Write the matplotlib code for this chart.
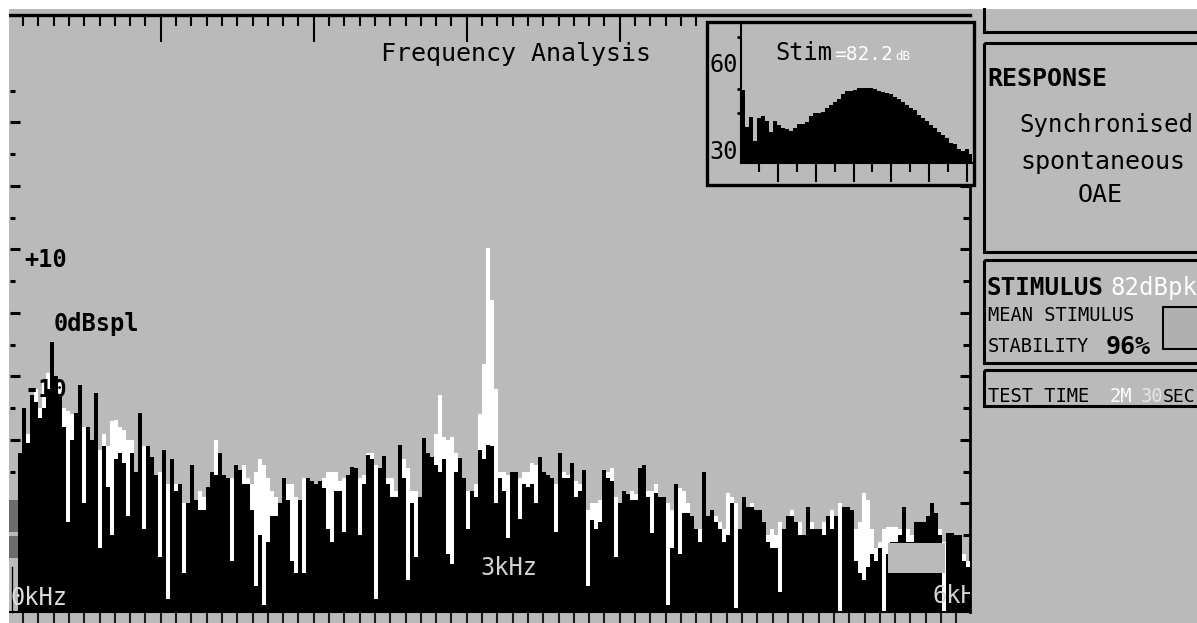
import numpy as np
import matplotlib.pyplot as plt
from matplotlib.patches import Rectangle

plt.rcParams['font.family'] = 'DejaVu Sans Mono'

GRAY = '#bababa'
W, H = 1197, 623

# main spectrum, 0-6 kHz in 240 bins, level in dB SPL
black_db = [
    -47, -47, -22, -15, -20.5, -13, -14, -16.5, -15, -12,
    -4.6, -10, -13, -18, -33, -20, -15.7, -11.3, -30, -18,
    -20, -12.6, -37, -21, -27.4, -35, -23, -22, -23.6, -32,
    -22, -25, -15.7, -34, -21, -22.7, -25.5, -38.5, -21.6, -45,
    -23, -28, -27, -41, -30, -24, -29.5, -31, -31, -27.4,
    -25, -25.5, -22, -25.5, -26, -39, -24, -24.7, -27, -27,
    -31, -43, -35, -46, -36, -32, -32, -30, -26, -29.5,
    -39, -41, -29.5, -41, -26, -26.5, -27, -26.5, -27.5, -34,
    -36, -28, -28, -34.5, -25.5, -24.2, -24.5, -35, -27, -22.4,
    -23, -45, -24.5, -22.6, -27, -29, -29, -20.8, -26, -42,
    -30, -38.5, -29, -19.7, -22, -22.7, -24, -25, -23, -38,
    -39.5, -25, -22.8, -26, -34, -28, -29, -21.6, -23, -20.8,
    -21, -30, -26, -28, -35.5, -25, -25, -32.5, -27, -27.4,
    -27, -30, -22.7, -25, -25.5, -26, -34.5, -22, -26, -26,
    -23.6, -29, -28, -24.7, -43, -32.6, -34, -33, -24.7, -26,
    -26.5, -38.5, -30, -28, -28.5, -29.5, -29.5, -24.5, -24, -29,
    -34.6, -28.3, -29, -29, -46, -37, -27, -38, -31.5, -31.5,
    -32, -34, -36, -25, -32, -31, -33, -34, -36, -35,
    -30, -46.5, -34, -29, -30.5, -30.5, -31, -31, -33, -36,
    -37, -37, -44, -34, -32, -32, -33, -35, -35, -30.5,
    -34, -34, -34, -35, -32, -34, -32, -47, -30.5, -30.5,
    -31, -39, -41, -42, -40, -38, -39, -37, -47, -38,
    -36, -36, -35, -30.5, -36, -36, -33, -33, -33, -32,
    -30, -31.5, -35, -47, -34.6, -34.6, -35, -35, -39, -40,
]
white_db = [
    -47, -47, -24, -20, -19, -16, -12, -15, -11, -9.5,
    -10, -12, -11, -15, -15.5, -16, -17, -14, -18, -19,
    -21, -15, -21.6, -19, -21, -17, -16.9, -18, -18.5, -20,
    -20, -26, -18, -21, -22, -24, -26, -25, -24, -27,
    -25, -27, -29, -30, -31, -27, -30, -28, -29, -29,
    -26, -20, -24, -26, -27, -26, -25, -26, -24, -26,
    -27, -25, -23, -24, -26, -28, -29, -31, -28, -27,
    -27, -29, -30, -26, -27, -28, -28, -27.5, -26, -25,
    -25, -25, -26.5, -26, -27, -25, -26, -26, -25.5, -22,
    -22, -24, -25, -24, -26, -26, -28, -22, -23, -24.5,
    -28, -28, -30, -21, -23, -23, -19, -12.9, -19.5, -20,
    -19.5, -22, -24, -27, -28, -28, -27, -16, -8, 10.2,
    2, -12, -25, -25, -25.5, -26, -27, -26, -25, -25,
    -23.6, -24, -24, -26, -26, -27, -27, -24, -25, -25.5,
    -25, -26.5, -27, -25, -31, -30, -30, -29.5, -26, -25,
    -24.5, -29, -30.5, -29, -29, -28, -28.5, -25, -25, -28,
    -28, -27, -29.5, -30, -30, -31, -29, -27.5, -28, -30,
    -33, -35, -34, -27, -33, -32, -32, -33, -34, -28.3,
    -29, -30, -35, -30, -31, -30, -32, -33, -33, -35,
    -34, -35, -33, -34, -33, -31, -34, -33, -36, -32,
    -33, -34, -35, -33, -33.5, -31, -33, -30, -31, -32,
    -32, -34, -33, -28.3, -29.5, -34, -37, -36, -34, -33.7,
    -33.7, -33.7, -34, -32, -34, -35, -34, -33.5, -34, -33,
    -32, -32, -34, -36, -35, -36, -36, -37, -38, -39,
]
# stimulus spectrum shown in the inset, dB
stim_db = [
    50.5, 38, 41.4, 33, 41, 41.5, 40, 36, 40, 38.5,
    37.5, 37, 36.5, 37.5, 39, 39, 39.5, 41.5, 42.5, 42.5,
    43, 44.5, 45.5, 46.5, 47.5, 49, 50, 50, 50.5, 51.3,
    51, 51, 51.3, 50.8, 50, 49.8, 49.5, 49, 48.2, 47.5,
    46.5, 45.5, 44.5, 43.5, 42, 41, 40, 38.5, 37.5, 36,
    35, 34, 32.5, 32, 30.5, 29.5, 30.5, 28.5,
]
stim_level = 82.2
stim_peak = 82
stability = 96
test_time = ('2M', '30')


def box(x0, y0, x1, y1):
    # pixel box (y measured from the top) -> figure fraction rect
    return [x0 / W, 1 - y1 / H, (x1 - x0) / W, (y1 - y0) / H]


fig = plt.figure(figsize=(W / 100, H / 100), dpi=100, facecolor=GRAY)

# ---- main frequency analysis plot
Y_LO, Y_HI = -47.1, 46.9
ax = fig.add_axes(box(10, 15, 970, 612), facecolor=GRAY)
ax.stairs(white_db, np.linspace(0, 6, len(white_db) + 1), baseline=Y_LO,
          fill=True, color='white', lw=0)
ax.stairs(black_db, np.linspace(0, 6, len(black_db) + 1), baseline=Y_LO,
          fill=True, color='black', lw=0)
ax.set_xlim(0, 6)
ax.set_ylim(Y_LO, Y_HI)

step = 0.095625
ax.set_xticks(0.08125 + step * np.arange(62))
ax.tick_params(axis='x', bottom=True, top=False, direction='out', length=8,
               width=1.5, color='#1a1a1a', labelbottom=False)
ax.set_yticks([30, 20, 10, 0, -10, -20])
ax.set_yticks([35, 25, 15, 5, -5, -15, -25], minor=True)
ax.tick_params(axis='y', which='both', left=True, right=False, direction='in',
               width=2.2, labelleft=False)
ax.tick_params(axis='y', which='major', length=7)
ax.tick_params(axis='y', which='minor', length=3.6)
for s in ['left', 'top', 'right']:
    ax.spines[s].set_visible(False)
ax.spines['bottom'].set_linewidth(1.5)

k = np.arange(45)
tpos = 0.08125 + step * k
top = ax.secondary_xaxis('top')
top.set_ticks(tpos[k % 10 == 9])
top.set_ticks(tpos[k % 10 != 9], minor=True)
top.tick_params(which='both', direction='in', width=1.5, color='black',
                labeltop=False, labelbottom=False)
top.tick_params(which='major', length=19.5)
top.tick_params(which='minor', length=8)
top.spines['top'].set_linewidth(2.4)

rt = ax.secondary_yaxis('right')
rt.set_ticks([20, 10, 0, -10, -20, -30, -40])
rt.set_ticks([15, 5, -5, -15, -25, -35], minor=True)
rt.tick_params(which='both', direction='in', width=2.2,
               labelright=False, labelleft=False)
rt.tick_params(which='major', length=7.5)
rt.tick_params(which='minor', length=5)
rt.spines['right'].set_bounds(Y_LO, 20.2)
rt.spines['right'].set_linewidth(2)

ax.text((932 - 10) / 160, (313 - 603) / 6.35, '6kHz', color='#d4d4d4',
        size=17, va='baseline', clip_on=True)

# ---- overlay in pixel coordinates for frames and screen text
ov = fig.add_axes([0, 0, 1, 1])
ov.set_xlim(0, W)
ov.set_ylim(H, 0)
ov.axis('off')

ov.add_patch(Rectangle((0, 0), W, 9, fc='white', lw=0))
ov.add_patch(Rectangle((0, 0), 9, H, fc='white', lw=0))
ov.add_patch(Rectangle((9, 500), 9, 32, fc='#6c6c6c', lw=0))
ov.add_patch(Rectangle((9, 536), 9, 22, fc='#6c6c6c', lw=0))
ov.plot([12, 12], [567, 612], color='black', lw=1)
ov.add_patch(Rectangle((888, 543), 57, 30, fc=GRAY, lw=0))

ov.add_patch(Rectangle((707, 22), 267, 163, fc=GRAY, ec='black', lw=2.4))

ov.plot([984, 984], [9, 32], color='black', lw=2.2)
ov.plot([984, W], [32, 32], color='black', lw=2.2)
ov.add_patch(Rectangle((984, 43), 240, 209, fc='none', ec='black', lw=2.2))
ov.add_patch(Rectangle((984, 260), 240, 103, fc='none', ec='black', lw=2.2))
ov.add_patch(Rectangle((984, 370), 240, 36, fc='none', ec='black', lw=2.2))
ov.add_patch(Rectangle((1163, 307), 60, 42, fc='#b0b0b0', ec='black', lw=1.5))

ov.text(381, 61, 'Frequency Analysis', size=18, va='baseline')
ov.text(24, 267, '+10', size=17, weight='bold', va='baseline')
ov.text(54, 331, '0dBspl', size=17, weight='bold', va='baseline')
ov.text(24, 397, '-10', size=17, weight='bold', va='baseline')
ov.text(11, 605, '0kHz', size=17, color='#dcdcdc', va='baseline')
ov.text(480, 575, '3kHz', size=17, color='#d4d4d4', va='baseline')

ov.text(775, 60, 'Stim', size=17, va='baseline')
ov.text(834, 60, f'={stim_level:.1f}', size=14, color='white', va='baseline')
ov.text(895, 60, 'dB', size=9, color='white', va='baseline')

ov.text(987, 86, 'RESPONSE', size=18, weight='bold', va='baseline')
ov.text(1019, 132, 'Synchronised', size=17.3, va='baseline')
ov.text(1020, 169, 'spontaneous', size=18, va='baseline')
ov.text(1100, 202, 'OAE', size=18, ha='center', va='baseline')

ov.text(987, 295, 'STIMULUS', size=17.5, weight='bold', va='baseline')
ov.text(1110, 295, f'{stim_peak}dBpk', size=17.3, color='white', va='baseline')
ov.text(988, 321, 'MEAN STIMULUS', size=13.5, va='baseline')
ov.text(988, 352, 'STABILITY', size=13.5, va='baseline')
ov.text(1106, 354, f'{stability}%', size=18, weight='bold', va='baseline')
ov.text(988, 402, 'TEST TIME', size=13.5, va='baseline')
ov.text(1110, 402, test_time[0], size=13.5, color='white', va='baseline')
ov.text(1141, 402, test_time[1], size=13.5, color='#e6e6e6', va='baseline')
ov.text(1163, 402, 'SEC', size=13, va='baseline')

# ---- stimulus inset
ins = fig.add_axes(box(741, 23, 972, 163))
ins.patch.set_visible(False)
ins.stairs(stim_db, np.arange(len(stim_db) + 1), baseline=20,
           fill=True, color='black', lw=0)
ins.set_xlim(0, 57.75)
ins.set_ylim(30 + (150 - 163) / 2.93, 30 + (150 - 23) / 2.93)
ins.set_yticks([30, 60], ['30', '60'])
ins.set_yticks([68.6, 50.8, 42.6], minor=True)
ins.tick_params(axis='y', which='major', length=0, pad=2, labelsize=17)
ins.tick_params(axis='y', which='minor', length=3, width=2, direction='out')
n = np.arange(12)
xpos = 4.5 + 4.725 * n
ins.set_xticks(xpos[n % 2 == 1])
ins.set_xticks(xpos[n % 2 == 0], minor=True)
ins.tick_params(axis='x', which='both', direction='out', width=1.5,
                labelbottom=False)
ins.tick_params(axis='x', which='major', length=13.7)
ins.tick_params(axis='x', which='minor', length=6.5)
ins.spines['top'].set_visible(False)
ins.spines['right'].set_visible(False)
ins.spines['left'].set_linewidth(1.5)
ins.spines['bottom'].set_linewidth(1.5)

plt.savefig('out.png', dpi=100, facecolor=GRAY)
plt.close()
